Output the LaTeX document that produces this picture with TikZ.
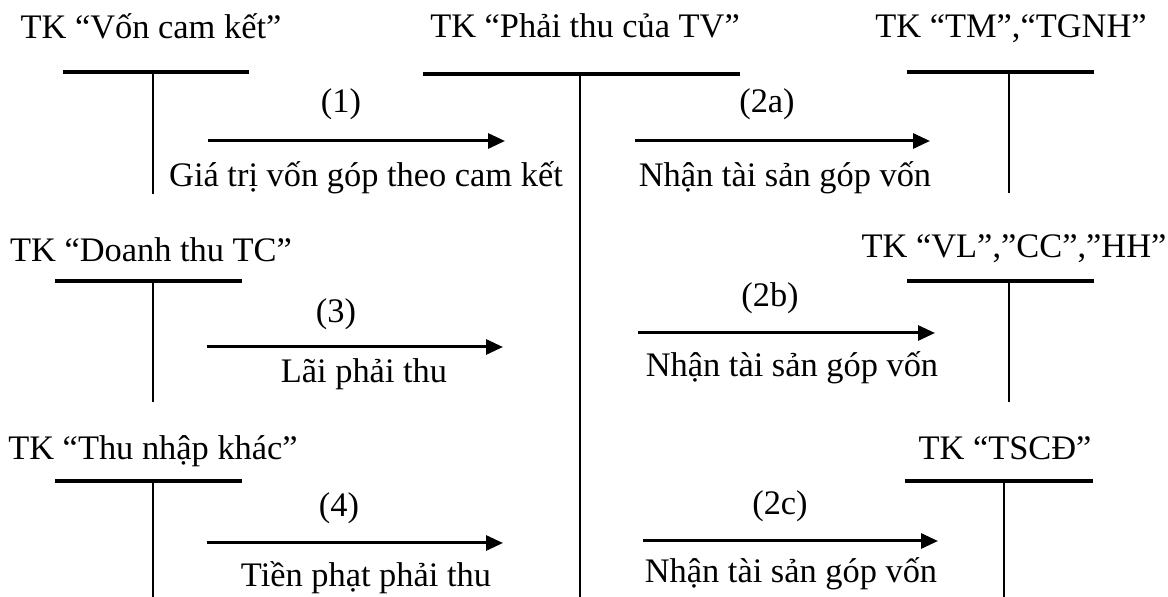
\documentclass[tikz,border=0pt]{standalone}
\usepackage{fontspec}
\setmainfont{Liberation Serif}
\usetikzlibrary{arrows.meta}
\tikzset{
  txt/.style={inner sep=0pt, anchor=base, font=\fontsize{17.2}{20}\selectfont},
  tbar/.style={line width=1.6pt},
  tstem/.style={line width=1pt},
  flow/.style={-{Triangle[length=8.5pt,width=7.5pt]}, line width=1.5pt}
}

\begin{document}
\begin{tikzpicture}[x=0.5pt,y=-0.5pt]
\useasboundingbox (0,0) rectangle (1168,597);

% account titles
\node[txt] (vck)  at (151,39)  {TK “Vốn cam kết”};
\node[txt] (ptv)  at (585,38)  {TK “Phải thu của TV”};
\node[txt] (tm)   at (1011,38) {TK “TM”,“TGNH”};
\node[txt] (dttc) at (151,262) {TK “Doanh thu TC”};
\node[txt] (vl)   at (1014,258) {TK “VL”,”CC”,”HH”};
\node[txt] (tnk)  at (153,460) {TK “Thu nhập khác”};
\node[txt] (tscd) at (1005,460) {TK “TSCĐ”};

% T accounts
\draw[tbar]  (63,72) -- (249,72);
\draw[tstem] (153,72) -- (153,194);
\draw[tbar]  (423,74) -- (740,74);
\draw[tstem] (580,74) -- (580,597);
\draw[tbar]  (907,72) -- (1094,72);
\draw[tstem] (1009,72) -- (1009,193);
\draw[tbar]  (55,281) -- (242,281);
\draw[tstem] (153,281) -- (153,402);
\draw[tbar]  (907,281) -- (1094,281);
\draw[tstem] (1009,281) -- (1009,402);
\draw[tbar]  (55,481) -- (242,481);
\draw[tstem] (153,481) -- (153,597);
\draw[tbar]  (905,481) -- (1093,481);
\draw[tstem] (1004,481) -- (1004,597);

% flows
\coordinate (f1a) at (208,141);  \coordinate (f1b) at (505,141);
\coordinate (f2a) at (635,141);  \coordinate (f2b) at (930,141);
\coordinate (f3a) at (207,347);  \coordinate (f3b) at (503,347);
\coordinate (f2ba) at (638,333); \coordinate (f2bb) at (935,333);
\coordinate (f4a) at (207,543);  \coordinate (f4b) at (503,543);
\coordinate (f2ca) at (643,541); \coordinate (f2cb) at (938,541);
\draw[flow] (f1a) -- (f1b);
\draw[flow] (f2a) -- (f2b);
\draw[flow] (f3a) -- (f3b);
\draw[flow] (f2ba) -- (f2bb);
\draw[flow] (f4a) -- (f4b);
\draw[flow] (f2ca) -- (f2cb);

\node[txt] (n1)  at (341,113) {(1)};
\node[txt] (d1)  at (366,187) {Giá trị vốn góp theo cam kết};
\node[txt] (n2a) at (767,113) {(2a)};
\node[txt] (d2a) at (785,187) {Nhận tài sản góp vốn};
\node[txt] (n3)  at (336,323) {(3)};
\node[txt] (d3)  at (364,383) {Lãi phải thu};
\node[txt] (n2b) at (770,307) {(2b)};
\node[txt] (d2b) at (792,377) {Nhận tài sản góp vốn};
\node[txt] (n4)  at (339,517) {(4)};
\node[txt] (d4)  at (366,587) {Tiền phạt phải thu};
\node[txt] (n2c) at (780,515) {(2c)};
\node[txt] (d2c) at (791,583) {Nhận tài sản góp vốn};
\end{tikzpicture}
\end{document}
